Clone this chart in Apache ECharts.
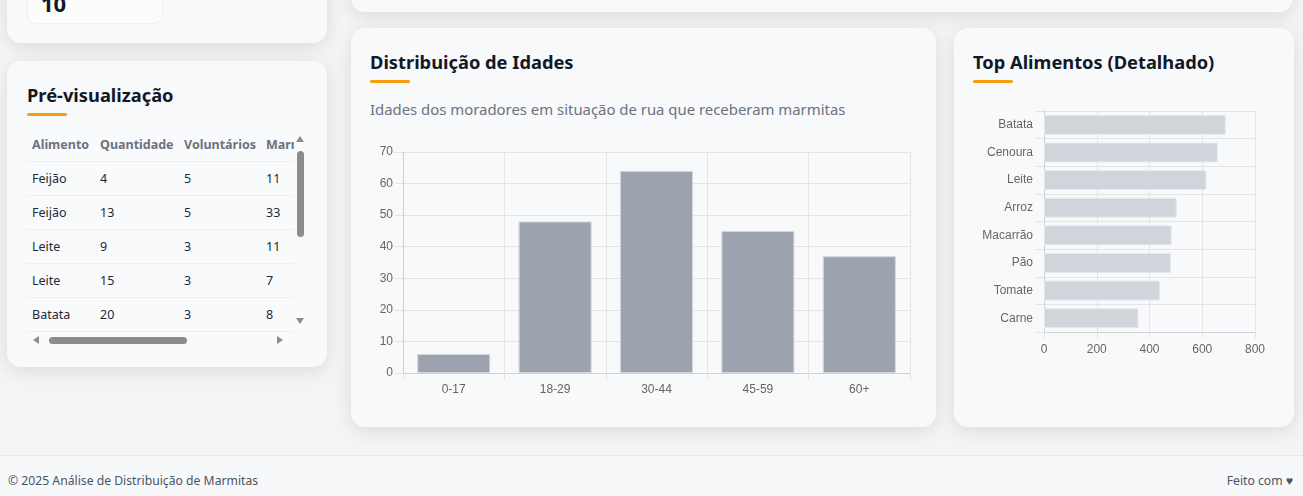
<!DOCTYPE html>
<html><head><meta charset="utf-8">
<script src="https://cdn.jsdelivr.net/npm/echarts@6/dist/echarts.min.js"></script>
<style>
html,body{margin:0;padding:0;width:1303px;height:496px;overflow:hidden;background:#f3f4f6;font-family:"Noto Sans","Open Sans",sans-serif;}
.card{position:absolute;background:#f8f9fa;border-radius:14px;box-shadow:0 4px 18px rgba(0,0,0,0.10);}
.title{position:absolute;font-weight:700;font-size:18.3px;color:#111827;white-space:nowrap;line-height:24px;}
.bar{position:absolute;width:40px;height:3px;background:#f59e0b;border-radius:2px;}
.sub{position:absolute;font-size:14.9px;color:#6b7280;white-space:nowrap;}
#tbl{position:absolute;left:26px;top:128px;width:282px;height:220px;overflow:hidden;background:#f9fafb;}
table{border-collapse:collapse;font-size:12.5px;color:#1f2937;position:absolute;left:0;top:0;}
th{font-weight:700;color:#6b7280;text-align:left;height:33px;padding:0 0 0 6px;white-space:nowrap;border-bottom:1px solid #eceef1;}
td{height:33px;padding:0 0 0 6px;border-bottom:1px solid #eceef1;white-space:nowrap;}
.footer{position:absolute;left:0;top:455px;width:1303px;height:41px;border-top:1px solid #e5e7eb;background:#f7f8fa;font-size:12.2px;color:#4b5563;}
</style></head><body>

<div class="card" style="left:7px;top:-40px;width:320px;height:83px;">
  <div style="position:absolute;left:20px;top:0;width:134px;height:62px;background:#fcfcfd;border:1px solid #eef0f2;border-radius:9px;">
    <div style="position:absolute;left:13px;top:27px;font-size:22px;font-weight:700;color:#111827;">10</div>
  </div>
</div>
<div class="card" style="left:351px;top:-40px;width:942px;height:52px;"></div>

<div class="card" style="left:7px;top:61px;width:320px;height:306px;">
  <div class="title" style="left:20px;top:22px;">Pré-visualização</div>
  <div class="bar" style="left:20px;top:52px;"></div>
</div>
<div id="tbl">
  <table id="t"></table>
  <div style="position:absolute;left:268px;top:0;width:14px;height:220px;background:#fafafa;"></div>
  <div style="position:absolute;left:271px;top:23px;width:7px;height:86px;background:#8c8c8c;border-radius:4px;"></div>
  <div style="position:absolute;left:270px;top:8px;width:0;height:0;border-left:4.5px solid transparent;border-right:4.5px solid transparent;border-bottom:6px solid #8c8c8c;"></div>
  <div style="position:absolute;left:270px;top:190px;width:0;height:0;border-left:4.5px solid transparent;border-right:4.5px solid transparent;border-top:6px solid #8c8c8c;"></div>
  <div style="position:absolute;left:0;top:204px;width:282px;height:16px;background:#fafafa;"></div>
  <div style="position:absolute;left:23px;top:209px;width:138px;height:7px;background:#8c8c8c;border-radius:4px;"></div>
  <div style="position:absolute;left:7px;top:208px;width:0;height:0;border-top:4.5px solid transparent;border-bottom:4.5px solid transparent;border-right:6px solid #8c8c8c;"></div>
  <div style="position:absolute;left:251px;top:208px;width:0;height:0;border-top:4.5px solid transparent;border-bottom:4.5px solid transparent;border-left:6px solid #8c8c8c;"></div>
</div>

<div class="card" style="left:351px;top:28px;width:585px;height:399px;">
  <div class="title" style="left:19px;top:22px;">Distribuição de Idades</div>
  <div class="bar" style="left:19px;top:52px;"></div>
  <div class="sub" style="left:19px;top:71px;">Idades dos moradores em situação de rua que receberam marmitas</div>
</div>
<div class="card" style="left:954px;top:28px;width:340px;height:399px;">
  <div class="title" style="left:19px;top:22px;">Top Alimentos (Detalhado)</div>
  <div class="bar" style="left:19px;top:52px;"></div>
</div>

<div id="c1" style="position:absolute;left:370px;top:140px;width:546px;height:270px;"></div>
<div id="c2" style="position:absolute;left:973px;top:100px;width:300px;height:270px;"></div>

<div class="footer">
  <div style="position:absolute;left:8px;top:16px;">© 2025 Análise de Distribuição de Marmitas</div>
  <div style="position:absolute;right:10px;top:16px;">Feito com ♥</div>
</div>

<script>
// Table data
const tableHeaders = ["Alimento", "Quantidade", "Voluntários", "Marmitas"];
const tableFood = ["Feijão", "Feijão", "Leite", "Leite", "Batata"];
const tableQty = [4, 13, 9, 15, 20];
const tableVol = [5, 5, 3, 3, 3];
const tableMarm = [11, 33, 11, 7, 8];

// Age chart data
const ageCategories = ["0-17", "18-29", "30-44", "45-59", "60+"];
const ageValues = [6, 48, 64, 45, 37];

// Top foods data
const foodCategories = ["Batata", "Cenoura", "Leite", "Arroz", "Macarrão", "Pão", "Tomate", "Carne"];
const foodValues = [689, 659, 616, 503, 484, 481, 440, 358];

(function(){
  const t = document.getElementById('t');
  const widths = [68, 84, 82, 60];
  let h = '<tr>' + tableHeaders.map((x,i)=>'<th style="width:'+(widths[i]-6)+'px;min-width:'+(widths[i]-6)+'px">'+x+'</th>').join('') + '</tr>';
  for (let i=0;i<tableFood.length;i++){
    h += '<tr><td>'+tableFood[i]+'</td><td>'+tableQty[i]+'</td><td>'+tableVol[i]+'</td><td>'+tableMarm[i]+'</td></tr>';
  }
  t.innerHTML = h;
})();

const gridColor = '#e3e4e6';
const labelStyle = {color:'#666', fontSize:12, fontFamily:'"Liberation Sans", Arial, sans-serif'};

const c1 = echarts.init(document.getElementById('c1'), null, {renderer:'canvas'});
c1.setOption({
  animation:false,
  grid:{left:33, right:6, top:12, bottom:37},
  xAxis:{type:'category', data:ageCategories, boundaryGap:true,
    axisLine:{lineStyle:{color:'#cfd0d3'}},
    axisTick:{show:true, length:7, lineStyle:{color:gridColor}},
    splitLine:{show:true, lineStyle:{color:gridColor}},
    axisLabel:Object.assign({margin:11}, labelStyle)},
  yAxis:{type:'value', min:0, max:70, interval:10,
    axisLine:{show:true, lineStyle:{color:'#cfd0d3'}},
    axisTick:{show:true, length:8, lineStyle:{color:gridColor}},
    splitLine:{show:true, lineStyle:{color:gridColor}},
    axisLabel:Object.assign({margin:10}, labelStyle)},
  series:[{type:'bar', data:ageValues, barWidth:'72%',
    itemStyle:{color:'#9ca3af', borderColor:'#d3d6dc', borderWidth:1}}]
});

const c2 = echarts.init(document.getElementById('c2'), null, {renderer:'canvas'});
c2.setOption({
  animation:false,
  grid:{left:71, right:18, top:11, bottom:38},
  xAxis:{type:'value', min:0, max:800, interval:200,
    axisLine:{show:true, lineStyle:{color:'#cfd0d3'}},
    axisTick:{show:true, length:6, lineStyle:{color:gridColor}},
    splitLine:{show:true, lineStyle:{color:gridColor}},
    axisLabel:Object.assign({margin:12}, labelStyle)},
  yAxis:{type:'category', data:foodCategories, inverse:true, boundaryGap:true,
    axisLine:{show:true, lineStyle:{color:'#cfd0d3'}},
    axisTick:{show:true, length:8, lineStyle:{color:gridColor}},
    splitLine:{show:true, lineStyle:{color:gridColor}},
    axisLabel:Object.assign({margin:11}, labelStyle)},
  series:[{type:'bar', data:foodValues, barWidth:'72%',
    itemStyle:{color:'#d1d5db', borderColor:'#e6e8ec', borderWidth:1}}]
});
</script>
</body></html>
